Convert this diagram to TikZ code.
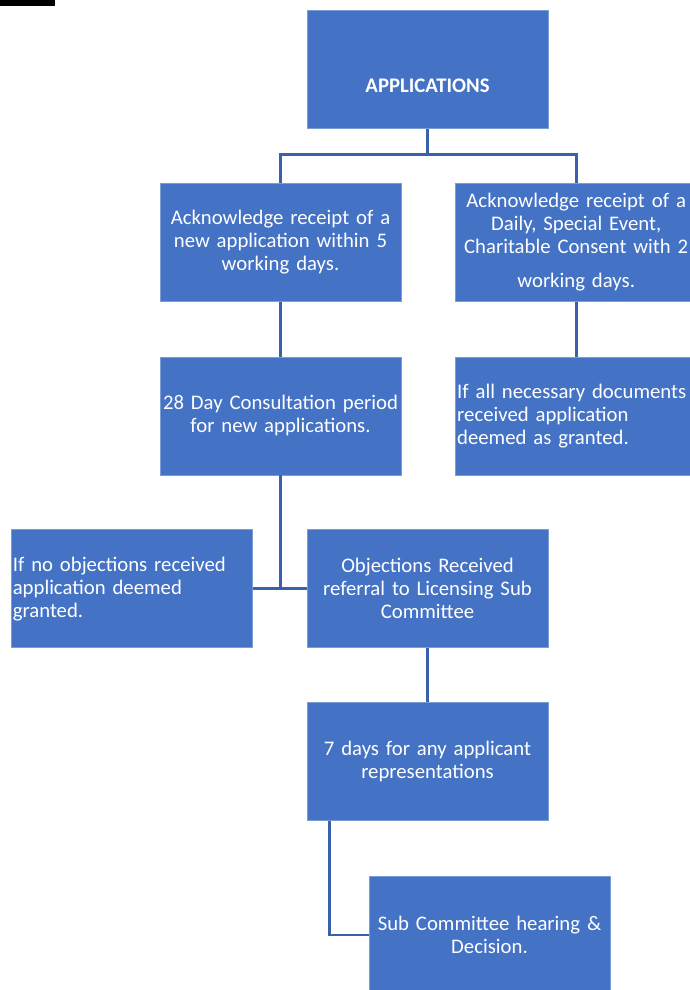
\documentclass[tikz,border=0pt]{standalone}
\usepackage{fontspec}
\setmainfont{Carlito}
\usetikzlibrary{positioning}
\definecolor{boxblue}{HTML}{4472C4}
\definecolor{lineblue}{HTML}{3A62AC}

\begin{document}
\begin{tikzpicture}[
    stage/.style={draw=boxblue!70!white, line width=0.4pt, fill=boxblue, text=white,
      minimum width=4.82cm, minimum height=2.36cm, text width=4.76cm, inner xsep=0.03cm,
      align=center, font=\fontsize{11.8pt}{13.1pt}\selectfont},
    stageleft/.style={stage, align=left},
    link/.style={draw=lineblue, line width=1.6pt}]
        \useasboundingbox (0,0) rectangle (13.8,-19.8);
        \fill (0,0) rectangle (1.1,-0.11);

        \node[stage] (app) at (8.55,-1.39) {\raisebox{-0.32cm}[\height][\depth]{\textbf{APPLICATIONS}}};
        \node[stage, below=1.08cm of app, xshift=-2.94cm] (ackNew) {Acknowledge receipt of a\\new application within 5\\working days.};
        \node[stage, right=1.08cm of ackNew] (ackDaily) {Acknowledge receipt of a\\Daily, Special Event,\\Charitable Consent with 2\\[6pt]working days.};
        \node[stage, below=1.1cm of ackNew] (consult) {28 Day Consultation period\\for new applications.};
        \node[stageleft, below=1.1cm of ackDaily] (docs) {If all necessary documents\\received application\\deemed as granted.};
        \node[stage, below=1.08cm of consult, xshift=2.94cm] (objections) {Objections Received\\referral to Licensing Sub\\Committee};
        \node[stageleft, left=1.08cm of objections] (noObj) {If no objections received\\application deemed\\granted.};
        \node[stage, below=1.08cm of objections] (reps) {7 days for any applicant\\representations};
        \node[stage, below=1.1cm of reps, xshift=1.24cm] (hearing) {Sub Committee hearing \&\\Decision.};

        \draw[link] (app.south) -- ++(0,-0.52) -| (ackNew.north);
        \draw[link] (app.south) -- ++(0,-0.52) -| (ackDaily.north);
        \draw[link] (ackNew) -- (consult);
        \draw[link] (ackDaily) -- (docs);
        \draw[link] (consult.south) -- (consult.south |- objections.west);
        \draw[link] (noObj) -- (objections);
        \draw[link] (objections) -- (reps);
        \draw[link] ([xshift=0.46cm]reps.south west) |- (hearing.west);
    \end{tikzpicture}
\end{document}
